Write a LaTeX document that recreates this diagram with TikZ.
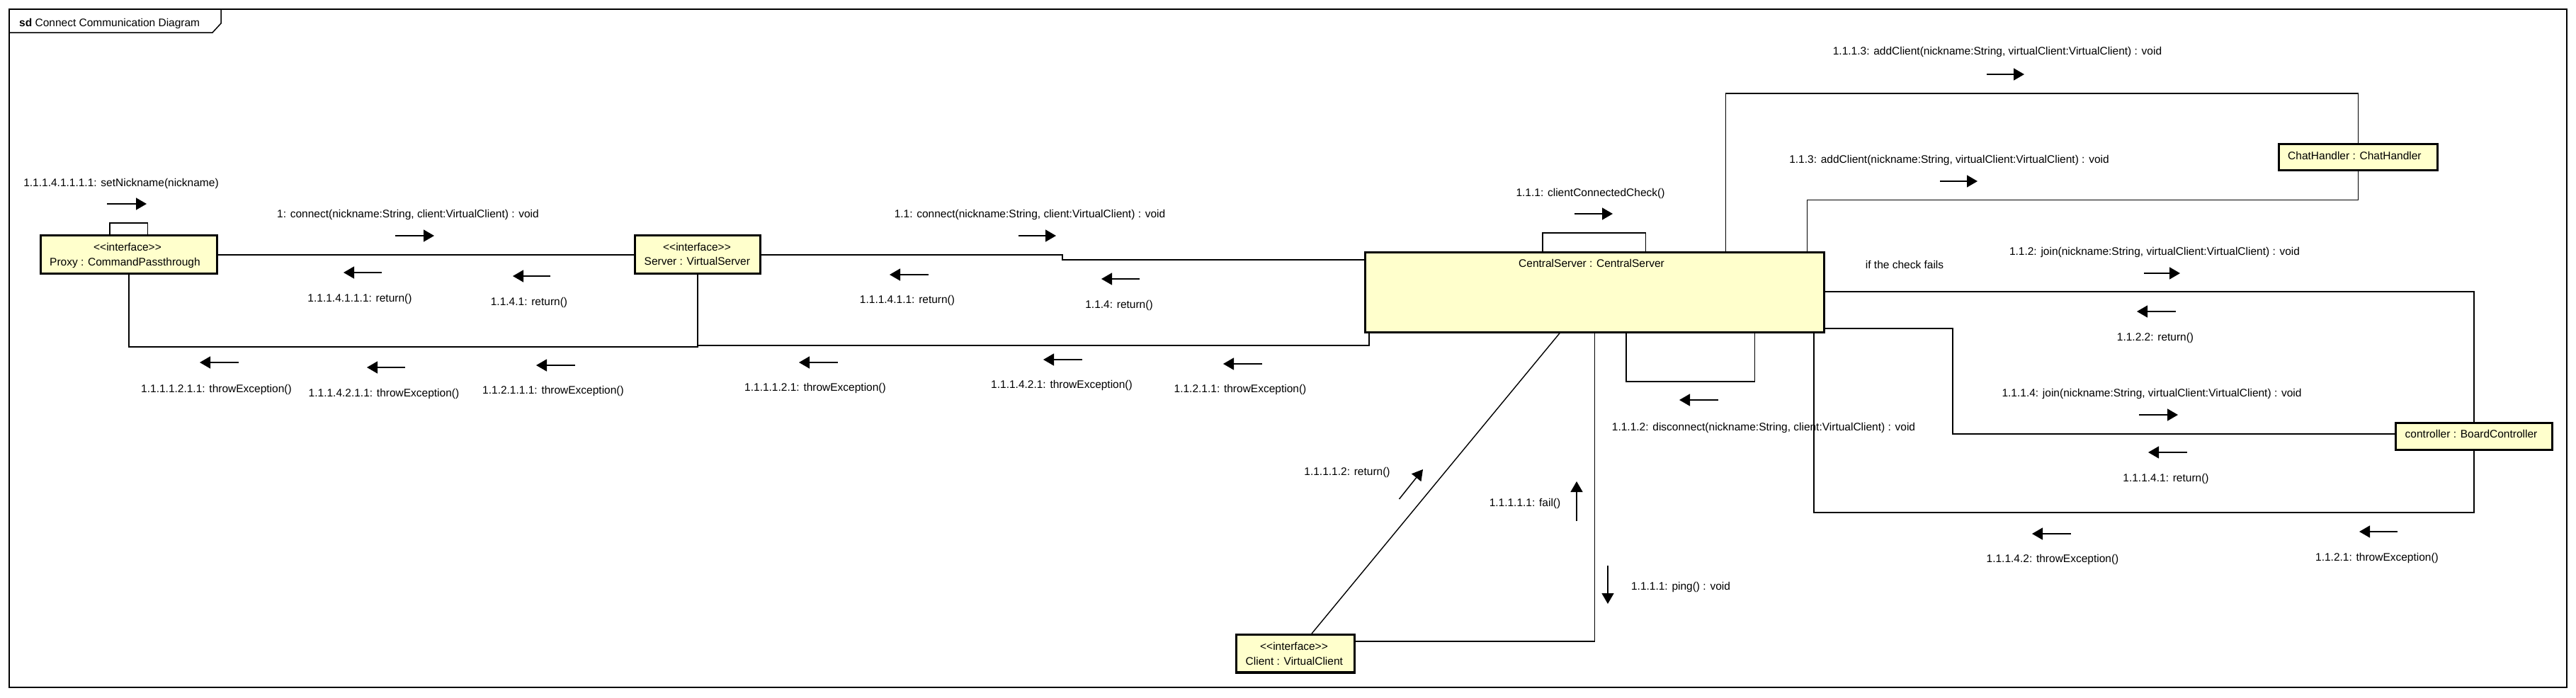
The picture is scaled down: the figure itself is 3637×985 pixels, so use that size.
\documentclass[tikz,border=0pt]{standalone}
\usepackage{fontspec}
\setmainfont{Liberation Sans}
\usetikzlibrary{arrows.meta}
\definecolor{boxfill}{HTML}{FFFFCC}
\newcommand\stereo[1]{\mbox{<}\mbox{<}#1\mbox{>}\mbox{>}}
\begin{document}
\begin{tikzpicture}[x=1pt,y=-1pt,
  lbl/.style={font=\fontsize{15.5}{18}\selectfont, inner sep=0pt, text height=12pt, text depth=1pt},
  obj/.style={draw=black, line width=3.2pt, fill=boxfill, inner sep=0pt},
  conn/.style={draw=black, line width=1.4pt},
  msg/.style={line width=1.5pt, -{Triangle[length=15pt,width=17pt]}},
  frame/.style={draw=black, line width=1.5pt}]
\fill[white] (0,0) rectangle (3637,985);
\useasboundingbox (0,0) rectangle (3637,985);
% frame
\draw[frame] (13,13) rectangle (3624,971);
\draw[frame] (13,46) -- (300,46) -- (312,33) -- (312,13);
\node[lbl, anchor=west] (title) at (27,31.6) {\textbf{sd} Connect Communication Diagram};

% objects
\node[obj, minimum width=248.8pt, minimum height=53.8pt] (proxy) at (182,359.5) {};
\node[obj, minimum width=176.8pt, minimum height=53.8pt] (server) at (985,359.5) {};
\node[obj, minimum width=648.3pt, minimum height=112.5pt] (central) at (2251.25,412.85) {};
\node[obj, minimum width=223.8pt, minimum height=36.8pt] (chat) at (3329.35,222) {};
\node[obj, minimum width=220.8pt, minimum height=37.8pt] (ctrl) at (3493,616.5) {};
\node[obj, minimum width=166.8pt, minimum height=53.3pt] (client) at (1829,923.25) {};

% object texts
\node[lbl] (proxyst) at (180,349) {\stereo{interface}};
\node[lbl, anchor=west] (proxynm) at (70,370) {Proxy : CommandPassthrough};
\node[lbl] (serverst) at (984,349) {\stereo{interface}};
\node[lbl, anchor=west] (servernm) at (909.5,369) {Server : VirtualServer};
\node[lbl] (centralnm) at (2247,371.7) {CentralServer : CentralServer};
\node[lbl, anchor=west] (chatnm) at (3230,219.5) {ChatHandler : ChatHandler};
\node[lbl, anchor=west] (ctrlnm) at (3395.5,613) {controller : BoardController};
\node[lbl] (clientst) at (1827,913) {\stereo{interface}};
\node[lbl, anchor=west] (clientnm) at (1758.5,934) {Client : VirtualClient};

% connectors
\draw[conn] (proxy.east |- 0,360) -- (server.west |- 0,360);
\draw[conn] (server.east |- 0,360) -- (1500,360) -- (1500,367) -- (central.west |- 0,367);
\draw[conn] (proxy.south) -- (proxy.south |- 0,490) -- (server.south |- 0,490) -- (server.south);
\draw[conn] (server.south) -- (server.south |- 0,488) -- (1933,488) -- (central.south -| 1933,0);
\draw[conn] (proxy.north -| 155,0) -- (155,315) -- (208.5,315) -- (proxy.north -| 208.5,0);
\draw[conn] (central.north -| 2178,0) -- (2178,329) -- (2323.5,329) -- (central.north -| 2323.5,0);
\draw[conn] (central.north -| 2436.7,0) -- (2436.7,132) -- (chat.north |- 0,132) -- (chat.north);
\draw[conn] (central.north -| 2551.5,0) -- (2551.5,282.7) -- (chat.south |- 0,282.7) -- (chat.south);
\draw[conn] (central.east |- 0,412) -- (ctrl.north |- 0,412) -- (ctrl.north);
\draw[conn] (central.east |- 0,464) -- (2757,464) -- (2757,613) -- (ctrl.west |- 0,613);
\draw[conn] (central.south -| 2561,0) -- (2561,724) -- (ctrl.south |- 0,724) -- (ctrl.south);
\draw[conn] (central.south -| 2296,0) -- (2296,539) -- (2477.5,539) -- (central.south -| 2477.5,0);
\draw[conn] (central.south -| 2202,0) -- (client.north -| 1852,0);
\draw[conn] (client.east |- 0,906) -- (2251.5,906) -- (central.south -| 2251.5,0);

% message arrows
\draw[msg] (151,288) -- (207,288);
\draw[msg] (558,333) -- (613,333);
\draw[msg] (539,385) -- (485,385);
\draw[msg] (777,390) -- (724,390);
\draw[msg] (337,512) -- (282,512);
\draw[msg] (572,519) -- (518,519);
\draw[msg] (812,516) -- (757,516);
\draw[msg] (1438,333) -- (1491,333);
\draw[msg] (1311,388) -- (1256,388);
\draw[msg] (1609,394) -- (1555,394);
\draw[msg] (1183,512) -- (1128,512);
\draw[msg] (1528,508) -- (1473,508);
\draw[msg] (1782,514) -- (1727,514);
\draw[msg] (2223,302) -- (2277,302);
\draw[msg] (2805,105) -- (2858,105);
\draw[msg] (2739,256) -- (2792,256);
\draw[msg] (3027,386) -- (3078,386);
\draw[msg] (3072,440) -- (3017,440);
\draw[msg] (3020,586) -- (3075,586);
\draw[msg] (3088,639) -- (3033,639);
\draw[msg] (2924,754) -- (2869,754);
\draw[msg] (3385,751) -- (3331,751);
\draw[msg] (2426,565) -- (2371,565);
\draw[msg] (1975.5,705) -- (2009,663);
\draw[msg] (2226,736) -- (2226,680);
\draw[msg] (2270,799) -- (2270,853);

% message labels
\node[lbl] (m1) at (171,258) {1.1.1.4.1.1.1.1: setNickname(nickname)};
\node[lbl] (m2) at (576,301.6) {1: connect(nickname:String, client:VirtualClient) : void};
\node[lbl] (m3) at (508,421) {1.1.1.4.1.1.1: return()};
\node[lbl] (m4) at (747,426) {1.1.4.1: return()};
\node[lbl] (m5) at (305.5,549) {1.1.1.1.2.1.1: throwException()};
\node[lbl] (m6) at (542,555) {1.1.1.4.2.1.1: throwException()};
\node[lbl] (m7) at (781,551) {1.1.2.1.1.1: throwException()};
\node[lbl] (m8) at (1454,301.7) {1.1: connect(nickname:String, client:VirtualClient) : void};
\node[lbl] (m9) at (1281,423) {1.1.1.4.1.1: return()};
\node[lbl] (m10) at (1580,430) {1.1.4: return()};
\node[lbl] (m11) at (1151,547) {1.1.1.1.2.1: throwException()};
\node[lbl] (m12) at (1499,543) {1.1.1.4.2.1: throwException()};
\node[lbl] (m13) at (1751,549) {1.1.2.1.1: throwException()};
\node[lbl] (m14) at (2245.5,272) {1.1.1: clientConnectedCheck()};
\node[lbl] (m15) at (2820,71.7) {1.1.1.3: addClient(nickname:String, virtualClient:VirtualClient) : void};
\node[lbl] (m16) at (2752,225) {1.1.3: addClient(nickname:String, virtualClient:VirtualClient) : void};
\node[lbl] (m17) at (3042,355) {1.1.2: join(nickname:String, virtualClient:VirtualClient) : void};
\node[lbl] (m18) at (2689,374) {if the check fails};
\node[lbl] (m19) at (3043,475.5) {1.1.2.2: return()};
\node[lbl] (m20) at (3038,555) {1.1.1.4: join(nickname:String, virtualClient:VirtualClient) : void};
\node[lbl] (m21) at (3058,675) {1.1.1.4.1: return()};
\node[lbl] (m22) at (2898,789) {1.1.1.4.2: throwException()};
\node[lbl] (m23) at (3356,787) {1.1.2.1: throwException()};
\node[lbl] (m24) at (2490,603) {1.1.1.2: disconnect(nickname:String, client:VirtualClient) : void};
\node[lbl] (m25) at (1902,666) {1.1.1.1.2: return()};
\node[lbl] (m26) at (2153,710) {1.1.1.1.1: fail()};
\node[lbl] (m27) at (2373,828) {1.1.1.1: ping() : void};
\end{tikzpicture}
\end{document}
